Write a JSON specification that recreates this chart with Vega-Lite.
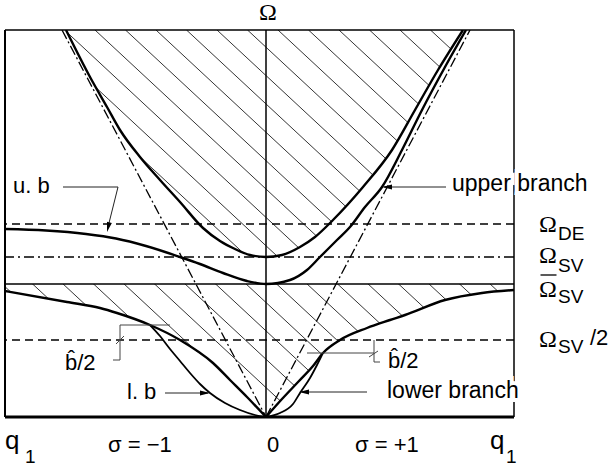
{
  "$schema": "https://vega.github.io/schema/vega-lite/v6.json",
  "width": 509,
  "height": 387,
  "autosize": {"type": "none"},
  "padding": {"left": 5, "top": 30, "right": 95, "bottom": 49},
  "background": "white",
  "config": {"view": {"stroke": null}, "font": "Liberation Sans"},
  "datasets": {
    "hatch": [
      {"x": -6.895, "xb": -2.734, "yt": 3.87, "yb": 0}, {"x": -6.590, "xb": -2.429, "yt": 3.87, "yb": 0},
      {"x": -6.285, "xb": -2.124, "yt": 3.87, "yb": 0}, {"x": -5.980, "xb": -1.819, "yt": 3.87, "yb": 0},
      {"x": -5.675, "xb": -1.514, "yt": 3.87, "yb": 0}, {"x": -5.370, "xb": -1.209, "yt": 3.87, "yb": 0},
      {"x": -5.065, "xb": -0.904, "yt": 3.87, "yb": 0}, {"x": -4.760, "xb": -0.599, "yt": 3.87, "yb": 0},
      {"x": -4.455, "xb": -0.294, "yt": 3.87, "yb": 0}, {"x": -4.150, "xb": 0.011, "yt": 3.87, "yb": 0},
      {"x": -3.845, "xb": 0.316, "yt": 3.87, "yb": 0}, {"x": -3.540, "xb": 0.621, "yt": 3.87, "yb": 0},
      {"x": -3.235, "xb": 0.926, "yt": 3.87, "yb": 0}, {"x": -2.930, "xb": 1.231, "yt": 3.87, "yb": 0},
      {"x": -2.625, "xb": 1.536, "yt": 3.87, "yb": 0}, {"x": -2.320, "xb": 1.841, "yt": 3.87, "yb": 0},
      {"x": -2.015, "xb": 2.146, "yt": 3.87, "yb": 0}, {"x": -1.710, "xb": 2.451, "yt": 3.87, "yb": 0},
      {"x": -1.405, "xb": 2.756, "yt": 3.87, "yb": 0}, {"x": -1.100, "xb": 3.061, "yt": 3.87, "yb": 0},
      {"x": -0.795, "xb": 3.366, "yt": 3.87, "yb": 0}, {"x": -0.490, "xb": 3.671, "yt": 3.87, "yb": 0},
      {"x": -0.185, "xb": 3.976, "yt": 3.87, "yb": 0}, {"x": 0.120, "xb": 4.281, "yt": 3.87, "yb": 0},
      {"x": 0.425, "xb": 4.586, "yt": 3.87, "yb": 0}, {"x": 0.730, "xb": 4.891, "yt": 3.87, "yb": 0},
      {"x": 1.035, "xb": 5.196, "yt": 3.87, "yb": 0}, {"x": 1.340, "xb": 5.501, "yt": 3.87, "yb": 0},
      {"x": 1.645, "xb": 5.806, "yt": 3.87, "yb": 0}, {"x": 1.950, "xb": 6.111, "yt": 3.87, "yb": 0},
      {"x": 2.255, "xb": 6.416, "yt": 3.87, "yb": 0}
    ],
    "maskTop": [
      {"x": -2.61, "y": 3.87, "y0": 1.33}, {"x": -2.00, "y": 3.87, "y0": 1.33}, {"x": -1.76, "y": 3.40, "y0": 1.33},
      {"x": -1.59, "y": 3.10, "y0": 1.33}, {"x": -1.46, "y": 2.87, "y0": 1.33}, {"x": -1.26, "y": 2.60, "y0": 1.33},
      {"x": -1.06, "y": 2.37, "y0": 1.33}, {"x": -0.86, "y": 2.15, "y0": 1.33}, {"x": -0.63, "y": 1.89, "y0": 1.33},
      {"x": -0.46, "y": 1.76, "y0": 1.33}, {"x": -0.31, "y": 1.68, "y0": 1.33}, {"x": -0.16, "y": 1.62, "y0": 1.33},
      {"x": 0, "y": 1.60, "y0": 1.33}, {"x": 0.16, "y": 1.62, "y0": 1.33}, {"x": 0.34, "y": 1.70, "y0": 1.33},
      {"x": 0.49, "y": 1.80, "y0": 1.33}, {"x": 0.67, "y": 1.97, "y0": 1.33}, {"x": 0.97, "y": 2.30, "y0": 1.33},
      {"x": 1.26, "y": 2.67, "y0": 1.33}, {"x": 1.49, "y": 3.07, "y0": 1.33}, {"x": 1.72, "y": 3.47, "y0": 1.33},
      {"x": 1.97, "y": 3.87, "y0": 1.33}, {"x": 2.48, "y": 3.87, "y0": 1.33}
    ],
    "maskBottom": [
      {"x": -2.61, "y": 1.26, "y0": 0}, {"x": -1.99, "y": 1.15, "y0": 0}, {"x": -1.66, "y": 1.09, "y0": 0},
      {"x": -1.49, "y": 1.04, "y0": 0}, {"x": -1.16, "y": 0.92, "y0": 0}, {"x": -0.86, "y": 0.77, "y0": 0},
      {"x": -0.53, "y": 0.54, "y0": 0}, {"x": -0.36, "y": 0.37, "y0": 0}, {"x": -0.19, "y": 0.20, "y0": 0},
      {"x": 0, "y": 0, "y0": 0}, {"x": 0.16, "y": 0.18, "y0": 0}, {"x": 0.33, "y": 0.36, "y0": 0},
      {"x": 0.47, "y": 0.51, "y0": 0}, {"x": 0.57, "y": 0.64, "y0": 0}, {"x": 0.74, "y": 0.77, "y0": 0},
      {"x": 1.01, "y": 0.89, "y0": 0}, {"x": 1.24, "y": 0.97, "y0": 0}, {"x": 1.39, "y": 1.02, "y0": 0},
      {"x": 1.79, "y": 1.17, "y0": 0}, {"x": 2.16, "y": 1.24, "y0": 0}, {"x": 2.48, "y": 1.27, "y0": 0}
    ],
    "levels": [
      {"name": "DE", "y": 1.93},
      {"name": "SV", "y": 1.60},
      {"name": "SVbar", "y": 1.33},
      {"name": "SVhalf", "y": 0.77}
    ],
    "frameH": [
      {"edge": "top", "y": 3.87},
      {"edge": "bottom", "y": 0}
    ],
    "frameV": [
      {"edge": "left", "x": -2.61},
      {"edge": "axis", "x": 0},
      {"edge": "right", "x": 2.48}
    ],
    "curves": [
      {"id": "continuum", "x": -2.00, "y": 3.87}, {"id": "continuum", "x": -1.76, "y": 3.40}, {"id": "continuum", "x": -1.59, "y": 3.10},
      {"id": "continuum", "x": -1.46, "y": 2.87}, {"id": "continuum", "x": -1.26, "y": 2.60}, {"id": "continuum", "x": -1.06, "y": 2.37},
      {"id": "continuum", "x": -0.86, "y": 2.15}, {"id": "continuum", "x": -0.63, "y": 1.89}, {"id": "continuum", "x": -0.46, "y": 1.76},
      {"id": "continuum", "x": -0.31, "y": 1.68}, {"id": "continuum", "x": -0.16, "y": 1.62}, {"id": "continuum", "x": 0, "y": 1.60},
      {"id": "continuum", "x": 0.16, "y": 1.62}, {"id": "continuum", "x": 0.34, "y": 1.70}, {"id": "continuum", "x": 0.49, "y": 1.80},
      {"id": "continuum", "x": 0.67, "y": 1.97}, {"id": "continuum", "x": 0.97, "y": 2.30}, {"id": "continuum", "x": 1.26, "y": 2.67},
      {"id": "continuum", "x": 1.49, "y": 3.07}, {"id": "continuum", "x": 1.72, "y": 3.47}, {"id": "continuum", "x": 1.97, "y": 3.87},

      {"id": "upper", "x": -2.61, "y": 1.88}, {"id": "upper", "x": -2.20, "y": 1.865}, {"id": "upper", "x": -1.80, "y": 1.83},
      {"id": "upper", "x": -1.50, "y": 1.785}, {"id": "upper", "x": -1.20, "y": 1.71}, {"id": "upper", "x": -0.86, "y": 1.60},
      {"id": "upper", "x": -0.66, "y": 1.53}, {"id": "upper", "x": -0.43, "y": 1.44}, {"id": "upper", "x": -0.19, "y": 1.36},
      {"id": "upper", "x": 0, "y": 1.33}, {"id": "upper", "x": 0.24, "y": 1.37}, {"id": "upper", "x": 0.41, "y": 1.47},
      {"id": "upper", "x": 0.54, "y": 1.60}, {"id": "upper", "x": 0.71, "y": 1.77}, {"id": "upper", "x": 0.84, "y": 1.90},
      {"id": "upper", "x": 0.99, "y": 2.10}, {"id": "upper", "x": 1.16, "y": 2.30}, {"id": "upper", "x": 1.36, "y": 2.67},
      {"id": "upper", "x": 1.56, "y": 3.07}, {"id": "upper", "x": 1.79, "y": 3.50}, {"id": "upper", "x": 2.00, "y": 3.87},

      {"id": "edgeL", "x": -2.61, "y": 1.26}, {"id": "edgeL", "x": -1.99, "y": 1.15}, {"id": "edgeL", "x": -1.66, "y": 1.09},
      {"id": "edgeL", "x": -1.49, "y": 1.04}, {"id": "edgeL", "x": -1.16, "y": 0.92}, {"id": "edgeL", "x": -0.86, "y": 0.77},
      {"id": "edgeL", "x": -0.53, "y": 0.54}, {"id": "edgeL", "x": -0.36, "y": 0.37}, {"id": "edgeL", "x": -0.19, "y": 0.20},
      {"id": "edgeL", "x": 0, "y": 0},

      {"id": "edgeR", "x": 0, "y": 0}, {"id": "edgeR", "x": 0.16, "y": 0.18}, {"id": "edgeR", "x": 0.33, "y": 0.36},
      {"id": "edgeR", "x": 0.47, "y": 0.51}, {"id": "edgeR", "x": 0.57, "y": 0.64}, {"id": "edgeR", "x": 0.74, "y": 0.77},
      {"id": "edgeR", "x": 1.01, "y": 0.89}, {"id": "edgeR", "x": 1.24, "y": 0.97}, {"id": "edgeR", "x": 1.39, "y": 1.02},
      {"id": "edgeR", "x": 1.79, "y": 1.17}, {"id": "edgeR", "x": 2.16, "y": 1.24}, {"id": "edgeR", "x": 2.48, "y": 1.27}
    ],
    "lower": [
      {"id": "lowerL", "x": -1.16, "y": 0.92}, {"id": "lowerL", "x": -1.06, "y": 0.81}, {"id": "lowerL", "x": -0.96, "y": 0.68},
      {"id": "lowerL", "x": -0.86, "y": 0.56}, {"id": "lowerL", "x": -0.76, "y": 0.44}, {"id": "lowerL", "x": -0.66, "y": 0.33},
      {"id": "lowerL", "x": -0.56, "y": 0.24}, {"id": "lowerL", "x": -0.41, "y": 0.14}, {"id": "lowerL", "x": -0.26, "y": 0.07},
      {"id": "lowerL", "x": -0.11, "y": 0.02}, {"id": "lowerL", "x": 0, "y": 0},
      {"id": "lowerR", "x": 0, "y": 0}, {"id": "lowerR", "x": 0.14, "y": 0.04}, {"id": "lowerR", "x": 0.27, "y": 0.13},
      {"id": "lowerR", "x": 0.34, "y": 0.24}, {"id": "lowerR", "x": 0.44, "y": 0.39}, {"id": "lowerR", "x": 0.51, "y": 0.52},
      {"id": "lowerR", "x": 0.56, "y": 0.62}
    ],
    "asymptotes": [
      {"side": "minus", "x": 0, "y": 0}, {"side": "minus", "x": -2.04, "y": 3.87},
      {"side": "plus", "x": 0, "y": 0}, {"side": "plus", "x": 2.04, "y": 3.87}
    ],
    "leaders": [
      {"id": "ub", "i": 0, "x": -2.03, "y": 2.30}, {"id": "ub", "i": 1, "x": -1.48, "y": 2.30}, {"id": "ub", "i": 2, "x": -1.58, "y": 1.90},
      {"id": "upper", "i": 0, "x": 1.80, "y": 2.30}, {"id": "upper", "i": 1, "x": 1.18, "y": 2.30},
      {"id": "lower", "i": 0, "x": 1.01, "y": 0.25}, {"id": "lower", "i": 1, "x": 0.36, "y": 0.25},
      {"id": "lb", "i": 0, "x": -1.01, "y": 0.24}, {"id": "lb", "i": 1, "x": -0.58, "y": 0.24}
    ],
    "brackets": [
      {"id": "bl", "i": 0, "x": -0.96, "y": 0.92}, {"id": "bl", "i": 1, "x": -1.46, "y": 0.92},
      {"id": "bl", "i": 2, "x": -1.46, "y": 0.57}, {"id": "bl", "i": 3, "x": -1.53, "y": 0.57},
      {"id": "blTick", "i": 0, "x": -1.50, "y": 0.73}, {"id": "blTick", "i": 1, "x": -1.42, "y": 0.81},
      {"id": "brLevel", "i": 0, "x": 0.41, "y": 0.64}, {"id": "brLevel", "i": 1, "x": 1.08, "y": 0.64},
      {"id": "br", "i": 0, "x": 1.08, "y": 0.77}, {"id": "br", "i": 1, "x": 1.08, "y": 0.55}, {"id": "br", "i": 2, "x": 1.14, "y": 0.55},
      {"id": "brTick", "i": 0, "x": 1.03, "y": 0.60}, {"id": "brTick", "i": 1, "x": 1.12, "y": 0.66}
    ],
    "overbar": [
      {"i": 0, "x": 2.745, "y": 1.42}, {"i": 1, "x": 2.905, "y": 1.42}
    ],
    "arrows": [
      {"dir": "down", "x": -1.59, "y": 1.85},
      {"dir": "left", "x": 1.16, "y": 2.30},
      {"dir": "left", "x": 0.33, "y": 0.25},
      {"dir": "right", "x": -0.56, "y": 0.24}
    ],
    "omegas": [
      {"t": "Ω", "x": -0.07, "y": 3.97},
      {"t": "Ω", "x": 2.73, "y": 1.85},
      {"t": "Ω", "x": 2.73, "y": 1.54},
      {"t": "Ω", "x": 2.73, "y": 1.20},
      {"t": "Ω", "x": 2.73, "y": 0.70}
    ],
    "subs": [
      {"t": "DE", "x": 2.92, "y": 1.77},
      {"t": "SV", "x": 2.92, "y": 1.45},
      {"t": "SV", "x": 2.92, "y": 1.14},
      {"t": "SV", "x": 2.92, "y": 0.64},
      {"t": "1", "x": -2.41, "y": -0.46},
      {"t": "1", "x": 2.40, "y": -0.46}
    ],
    "words": [
      {"t": "/2", "x": 3.24, "y": 0.72},
      {"t": "σ = −1", "x": -1.58, "y": -0.35},
      {"t": "0", "x": 0.01, "y": -0.35},
      {"t": "σ = +1", "x": 0.89, "y": -0.35},
      {"t": "u. b", "x": -2.53, "y": 2.24},
      {"t": "l. b", "x": -1.39, "y": 0.18},
      {"t": "b̂/2", "x": -2.01, "y": 0.47},
      {"t": "b̂/2", "x": 1.22, "y": 0.49}
    ],
    "waveNumbers": [
      {"t": "q", "x": -2.61, "y": -0.32},
      {"t": "q", "x": 2.24, "y": -0.32}
    ],
    "branchLabels": [
      {"t": "upper branch", "x": 1.86, "y": 2.26},
      {"t": "lower branch", "x": 1.21, "y": 0.19}
    ]
  },
  "layer": [
    {
      "data": {"name": "hatch"},
      "mark": {"type": "rule", "clip": true, "stroke": "#000", "strokeWidth": 0.8},
      "encoding": {
        "x": {"field": "x", "type": "quantitative", "scale": {"domain": [-2.61, 2.48], "nice": false, "zero": false}, "axis": null},
        "x2": {"field": "xb"},
        "y": {"field": "yt", "type": "quantitative", "scale": {"domain": [0, 3.87], "nice": false, "zero": false}, "axis": null},
        "y2": {"field": "yb"}
      }
    },
    {
      "data": {"name": "maskTop"},
      "mark": {"type": "area", "fill": "white", "clip": true},
      "encoding": {
        "x": {"field": "x", "type": "quantitative", "axis": null},
        "y": {"field": "y", "type": "quantitative", "axis": null},
        "y2": {"field": "y0"}
      }
    },
    {
      "data": {"name": "maskBottom"},
      "mark": {"type": "area", "fill": "white", "clip": true},
      "encoding": {
        "x": {"field": "x", "type": "quantitative", "axis": null},
        "y": {"field": "y", "type": "quantitative", "axis": null},
        "y2": {"field": "y0"}
      }
    },
    {
      "data": {"name": "levels"},
      "transform": [{"filter": "datum.name === 'DE' || datum.name === 'SVhalf'"}],
      "mark": {"type": "rule", "stroke": "#000", "strokeWidth": 1.4, "strokeDash": [8, 5]},
      "encoding": {"y": {"field": "y", "type": "quantitative", "axis": null}}
    },
    {
      "data": {"name": "levels"},
      "transform": [{"filter": "datum.name === 'SV'"}],
      "mark": {"type": "rule", "stroke": "#000", "strokeWidth": 1.4, "strokeDash": [10, 4, 2, 4]},
      "encoding": {"y": {"field": "y", "type": "quantitative", "axis": null}}
    },
    {
      "data": {"name": "levels"},
      "transform": [{"filter": "datum.name === 'SVbar'"}],
      "mark": {"type": "rule", "stroke": "#000", "strokeWidth": 1.5},
      "encoding": {"y": {"field": "y", "type": "quantitative", "axis": null}}
    },
    {
      "data": {"name": "asymptotes"},
      "mark": {"type": "line", "clip": true, "stroke": "#000", "strokeWidth": 1.3, "strokeDash": [10, 3, 2, 3]},
      "encoding": {
        "x": {"field": "x", "type": "quantitative", "axis": null},
        "y": {"field": "y", "type": "quantitative", "axis": null},
        "detail": {"field": "side"}
      }
    },
    {
      "data": {"name": "curves"},
      "mark": {"type": "line", "clip": true, "interpolate": "monotone", "stroke": "#000", "strokeWidth": 2.4},
      "encoding": {
        "x": {"field": "x", "type": "quantitative", "axis": null},
        "y": {"field": "y", "type": "quantitative", "axis": null},
        "detail": {"field": "id"}
      }
    },
    {
      "data": {"name": "lower"},
      "mark": {"type": "line", "clip": true, "interpolate": "monotone", "stroke": "#000", "strokeWidth": 1.8},
      "encoding": {
        "x": {"field": "x", "type": "quantitative", "axis": null},
        "y": {"field": "y", "type": "quantitative", "axis": null},
        "detail": {"field": "id"}
      }
    },
    {
      "data": {"name": "leaders"},
      "mark": {"type": "line", "stroke": "#222", "strokeWidth": 1},
      "encoding": {
        "x": {"field": "x", "type": "quantitative", "axis": null},
        "y": {"field": "y", "type": "quantitative", "axis": null},
        "detail": {"field": "id"},
        "order": {"field": "i"}
      }
    },
    {
      "data": {"name": "brackets"},
      "mark": {"type": "line", "stroke": "#444", "strokeWidth": 1},
      "encoding": {
        "x": {"field": "x", "type": "quantitative", "axis": null},
        "y": {"field": "y", "type": "quantitative", "axis": null},
        "detail": {"field": "id"},
        "order": {"field": "i"}
      }
    },
    {
      "data": {"name": "overbar"},
      "mark": {"type": "line", "stroke": "#000", "strokeWidth": 1.3},
      "encoding": {
        "x": {"field": "x", "type": "quantitative", "axis": null},
        "y": {"field": "y", "type": "quantitative", "axis": null},
        "order": {"field": "i"}
      }
    },
    {
      "data": {"name": "arrows"},
      "transform": [{"filter": "datum.dir === 'left'"}],
      "mark": {"type": "point", "shape": "M0,0L-2,-0.5L-2,0.5Z", "size": 100, "filled": true, "fill": "#000", "opacity": 1, "angle": 180},
      "encoding": {
        "x": {"field": "x", "type": "quantitative", "axis": null},
        "y": {"field": "y", "type": "quantitative", "axis": null}
      }
    },
    {
      "data": {"name": "arrows"},
      "transform": [{"filter": "datum.dir === 'right'"}],
      "mark": {"type": "point", "shape": "M0,0L-2,-0.5L-2,0.5Z", "size": 100, "filled": true, "fill": "#000", "opacity": 1, "angle": 0},
      "encoding": {
        "x": {"field": "x", "type": "quantitative", "axis": null},
        "y": {"field": "y", "type": "quantitative", "axis": null}
      }
    },
    {
      "data": {"name": "arrows"},
      "transform": [{"filter": "datum.dir === 'down'"}],
      "mark": {"type": "point", "shape": "M0,0L-2,-0.5L-2,0.5Z", "size": 100, "filled": true, "fill": "#000", "opacity": 1, "angle": 104},
      "encoding": {
        "x": {"field": "x", "type": "quantitative", "axis": null},
        "y": {"field": "y", "type": "quantitative", "axis": null}
      }
    },
    {
      "data": {"name": "frameV"},
      "transform": [{"filter": "datum.edge === 'axis' || datum.edge === 'right'"}],
      "mark": {"type": "rule", "stroke": "#000", "strokeWidth": 1.5},
      "encoding": {"x": {"field": "x", "type": "quantitative", "axis": null}}
    },
    {
      "data": {"name": "frameV"},
      "transform": [{"filter": "datum.edge === 'left'"}],
      "mark": {"type": "rule", "stroke": "#000", "strokeWidth": 2},
      "encoding": {"x": {"field": "x", "type": "quantitative", "axis": null}}
    },
    {
      "data": {"name": "frameH"},
      "transform": [{"filter": "datum.edge === 'top'"}],
      "mark": {"type": "rule", "stroke": "#000", "strokeWidth": 1.5},
      "encoding": {"y": {"field": "y", "type": "quantitative", "axis": null}}
    },
    {
      "data": {"name": "frameH"},
      "transform": [{"filter": "datum.edge === 'bottom'"}],
      "mark": {"type": "rule", "stroke": "#000", "strokeWidth": 3},
      "encoding": {"y": {"field": "y", "type": "quantitative", "axis": null}}
    },
    {
      "data": {"name": "branchLabels"},
      "mark": {"type": "text", "align": "left", "baseline": "alphabetic", "font": "Liberation Sans", "fontSize": 23, "fill": "white", "stroke": "white", "strokeWidth": 8},
      "encoding": {
        "x": {"field": "x", "type": "quantitative", "axis": null},
        "y": {"field": "y", "type": "quantitative", "axis": null},
        "text": {"field": "t"}
      }
    },
    {
      "data": {"name": "branchLabels"},
      "mark": {"type": "text", "align": "left", "baseline": "alphabetic", "font": "Liberation Sans", "fontSize": 23, "fill": "#000"},
      "encoding": {
        "x": {"field": "x", "type": "quantitative", "axis": null},
        "y": {"field": "y", "type": "quantitative", "axis": null},
        "text": {"field": "t"}
      }
    },
    {
      "data": {"name": "words"},
      "mark": {"type": "text", "align": "left", "baseline": "alphabetic", "font": "Liberation Sans", "fontSize": 22, "fill": "#000"},
      "encoding": {
        "x": {"field": "x", "type": "quantitative", "axis": null},
        "y": {"field": "y", "type": "quantitative", "axis": null},
        "text": {"field": "t"}
      }
    },
    {
      "data": {"name": "waveNumbers"},
      "mark": {"type": "text", "align": "left", "baseline": "alphabetic", "font": "Liberation Sans", "fontSize": 26, "fill": "#000"},
      "encoding": {
        "x": {"field": "x", "type": "quantitative", "axis": null},
        "y": {"field": "y", "type": "quantitative", "axis": null},
        "text": {"field": "t"}
      }
    },
    {
      "data": {"name": "omegas"},
      "mark": {"type": "text", "align": "left", "baseline": "alphabetic", "font": "Liberation Serif", "fontSize": 24, "fill": "#000"},
      "encoding": {
        "x": {"field": "x", "type": "quantitative", "axis": null},
        "y": {"field": "y", "type": "quantitative", "axis": null},
        "text": {"field": "t"}
      }
    },
    {
      "data": {"name": "subs"},
      "mark": {"type": "text", "align": "left", "baseline": "alphabetic", "font": "Liberation Sans", "fontSize": 19, "fill": "#000"},
      "encoding": {
        "x": {"field": "x", "type": "quantitative", "axis": null},
        "y": {"field": "y", "type": "quantitative", "axis": null},
        "text": {"field": "t"}
      }
    }
  ]
}
